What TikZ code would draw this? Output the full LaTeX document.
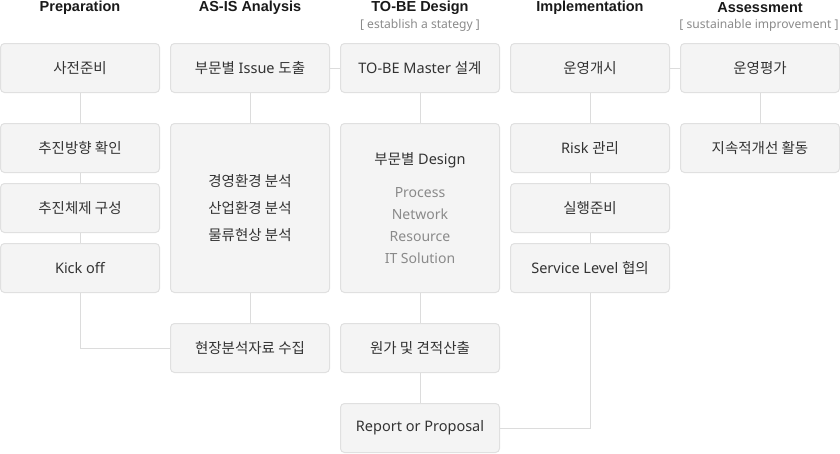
\documentclass[tikz,border=0pt]{standalone}
\usepackage{fontspec}
\setmainfont{Noto Sans}
\newfontfamily\krfont{Noto Sans CJK KR}
\newfontfamily\headfont{Liberation Sans}
\newcommand\kr[1]{{\krfont #1}}
\definecolor{boxfill}{HTML}{F4F4F4}
\definecolor{boxline}{HTML}{E0E0E0}
\definecolor{conn}{HTML}{DCDCDC}
\definecolor{txt}{HTML}{333333}
\definecolor{sub}{HTML}{8A8A8A}
\begin{document}
\begin{tikzpicture}[x=1pt,y=-1pt,
  box/.style={draw=boxline, fill=boxfill, rounded corners=4pt, line width=1pt,
    minimum width=159pt, minimum height=49pt, inner sep=0pt, text=txt,
    font=\fontsize{14.5}{18}\selectfont, align=center},
  bigbox/.style={box, minimum height=169pt},
  head/.style={text=black!90, font=\headfont\fontsize{14.5}{18}\selectfont\bfseries, inner sep=0pt},
  subhead/.style={text=sub, font=\fontsize{12.1}{14}\selectfont, inner sep=0pt},
  conn/.style={draw=conn, line width=1pt},
  graytxt/.style={text=sub, font=\fontsize{14}{22}\selectfont, align=center, inner sep=0pt}
]
\useasboundingbox (0,0) rectangle (840,453);

% headers
\node[head] (h1) at (80,7.5) {Preparation};
\node[head] (h2) at (250,7.5) {AS-IS Analysis};
\node[head] (h3) at (420,7.5) {TO-BE Design};
\node[subhead] (s3) at (420,25) {[ establish a stategy ]};
\node[head] (h4) at (590,7.5) {Implementation};
\node[head] (h5) at (760,7.5) {Assessment};
\node[subhead] (s5) at (759,25) {[ sustainable improvement ]};

% column 1
\node[box] (p1) at (80,68) {\kr{사전준비}};
\node[box] (p2) at (80,148) {\kr{추진방향 확인}};
\node[box] (p3) at (80,208) {\kr{추진체제 구성}};
\node[box] (p4) at (80,268) {Kick off};

% column 2
\node[box] (a1) at (250,68) {\kr{부문별} Issue \kr{도출}};
\node[bigbox, font=\fontsize{14.5}{27}\selectfont] (a2) at (250,208) {\kr{경영환경 분석}\\\kr{산업환경 분석}\\\kr{물류현상 분석}};
\node[box] (a3) at (250,348) {\kr{현장분석자료 수집}};

% column 3
\node[box] (t1) at (420,68) {TO-BE Master \kr{설계}};
\node[bigbox] (t2) at (420,208) {};
\node[text=txt, font=\fontsize{14.5}{18}\selectfont, inner sep=0pt] (t2a) at (420,160) {\kr{부문별} Design};
\node[graytxt] (t2b) at (420,226) {Process\\Network\\Resource\\IT Solution};
\node[box] (t3) at (420,348) {\kr{원가 및 견적산출}};
\node[box] (t4) at (420,428) {Report or Proposal};

% column 4
\node[box] (i1) at (590,68) {\kr{운영개시}};
\node[box] (i2) at (590,148) {Risk \kr{관리}};
\node[box] (i3) at (590,208) {\kr{실행준비}};
\node[box] (i4) at (590,268) {Service Level \kr{협의}};

% column 5
\node[box] (e1) at (760,68) {\kr{운영평가}};
\node[box] (e2) at (760,148) {\kr{지속적개선 활동}};

% connectors
\draw[conn] (p1) -- (p2);
\draw[conn] (p2) -- (p3);
\draw[conn] (p3) -- (p4);
\draw[conn] (p4.south) |- (a3.west);
\draw[conn] (a1) -- (a2);
\draw[conn] (a2) -- (a3);
\draw[conn] (a1) -- (t1);
\draw[conn] (t1) -- (t2);
\draw[conn] (t2) -- (t3);
\draw[conn] (t3) -- (t4);
\draw[conn] (i1) -- (i2);
\draw[conn] (i2) -- (i3);
\draw[conn] (i3) -- (i4);
\draw[conn] (i4.south) |- (t4.east);
\draw[conn] (i1) -- (e1);
\draw[conn] (e1) -- (e2);
\end{tikzpicture}
\end{document}
